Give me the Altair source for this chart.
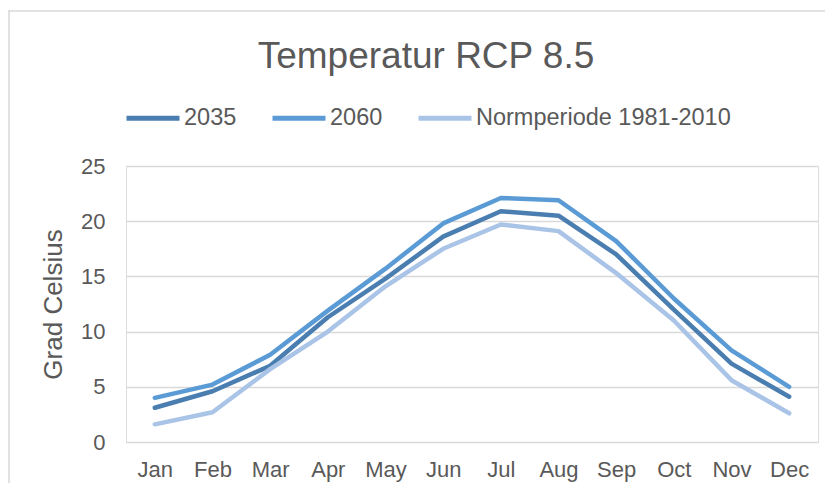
import altair as alt
import pandas as pd

months = ["Jan", "Feb", "Mar", "Apr", "May", "Jun", "Jul", "Aug", "Sep", "Oct", "Nov", "Dec"]
t2035 = [3.1, 4.6, 6.9, 11.3, 14.8, 18.6, 20.9, 20.5, 17.0, 12.0, 7.1, 4.1]
t2060 = [4.0, 5.2, 7.9, 11.9, 15.7, 19.8, 22.1, 21.9, 18.2, 13.0, 8.3, 5.0]
norm = [1.6, 2.7, 6.6, 10.0, 14.1, 17.5, 19.7, 19.1, 15.3, 11.0, 5.6, 2.6]
series = ["2035", "2060", "Normperiode 1981-2010"]
colors = ["#4a7eb0", "#5b9bd5", "#a9c4e6"]
y_ticks = [0, 5, 10, 15, 20, 25]

rows = []
for name, vals in zip(series, [t2035, t2060, norm]):
    for m, v in zip(months, vals):
        rows.append({"Monat": m, "Temperatur": v, "Serie": name})
df = pd.DataFrame(rows)

FONT = "Liberation Sans, Arial, sans-serif"
TXT = "#595959"
GRID = "#d9d9d9"

lines = alt.Chart(df).mark_line(
    strokeWidth=4.5, strokeCap="round", strokeJoin="round"
).encode(
    x=alt.X("Monat:N", sort=months, title=None,
            axis=alt.Axis(labelAngle=0, domain=False, ticks=False, tickSize=0,
                          labelPadding=17, labelFontSize=22, labelColor=TXT,
                          labelFont=FONT, grid=False)),
    y=alt.Y("Temperatur:Q", scale=alt.Scale(domain=[0, 25], nice=False, zero=True),
            title="Grad Celsius",
            axis=alt.Axis(values=y_ticks, domain=False, ticks=False, tickSize=0,
                          labelPadding=21, labelFontSize=22, labelColor=TXT,
                          labelFont=FONT, grid=True, gridColor=GRID, gridWidth=1.4,
                          titleFontSize=26, titleColor=TXT, titleFont=FONT,
                          titleFontWeight="normal", titlePadding=14)),
    color=alt.Color("Serie:N", sort=series,
                    scale=alt.Scale(domain=series, range=colors),
                    legend=alt.Legend(title=None, orient="none", direction="horizontal",
                                      legendX=-2, legendY=-77, padding=0,
                                      symbolType="stroke", symbolSize=2809,
                                      symbolStrokeWidth=5, labelFontSize=23.5,
                                      labelColor=TXT, labelFont=FONT, labelOffset=2,
                                      labelLimit=0, columnPadding=25)),
    order=alt.Order("Serie:N"),
)

frame_df = pd.DataFrame({"k": [0]})
top_border = alt.Chart(frame_df).mark_rule(color=GRID, strokeWidth=1.5).encode(
    x=alt.value(-118), x2=alt.value(699), y=alt.value(-155)
)
left_border = alt.Chart(frame_df).mark_rule(color=GRID, strokeWidth=1.5).encode(
    x=alt.value(-117), y=alt.value(-155), y2=alt.value(317)
)

chart = alt.layer(top_border, left_border, lines).properties(
    width=692, height=276,
    autosize=alt.AutoSizeParams(type="none"),
    padding={"left": 118, "top": 158, "right": 7, "bottom": 41},
    title=alt.TitleParams("Temperatur RCP 8.5", fontSize=37, font=FONT, color=TXT,
                          fontWeight="normal", anchor="middle", dx=-46, dy=70,
                          frame="group"),
).configure_view(stroke=None).configure(background="white")

chart.save("out.html", embed_options={"renderer": "svg", "actions": False})
